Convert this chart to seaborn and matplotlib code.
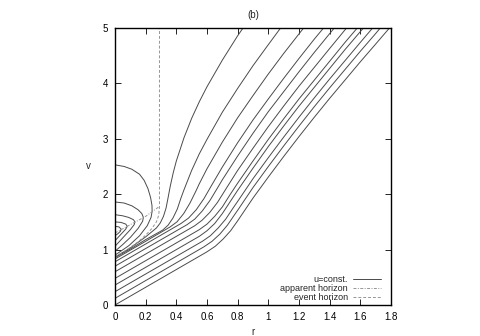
import pandas as pd
import matplotlib
matplotlib.use("Agg")
import matplotlib.pyplot as plt
from matplotlib.lines import Line2D
import seaborn as sns

# ===========================
# Data (r, v)
# ===========================

# outgoing rays u=const. that escape (lowest first)
ray1 = [(0, 0), (0.6, 0.96), (0.654, 1.06), (0.705, 1.19), (0.754, 1.34), (0.8, 1.52), (0.9, 1.93),
        (1.0, 2.31), (1.1, 2.68), (1.2, 3.04), (1.3, 3.39), (1.4, 3.73), (1.5, 4.06), (1.6, 4.39),
        (1.7, 4.71), (1.79, 5.0)]
ray2 = [(0, 0.12), (0.58, 1.05), (0.633, 1.15), (0.684, 1.28), (0.733, 1.44), (0.78, 1.63),
        (0.8, 1.71), (0.9, 2.12), (1.0, 2.50), (1.1, 2.87), (1.2, 3.23), (1.3, 3.58), (1.4, 3.92),
        (1.5, 4.25), (1.6, 4.58), (1.7, 4.90), (1.73, 5.0)]
ray3 = [(0, 0.24), (0.57, 1.15), (0.622, 1.25), (0.673, 1.39), (0.722, 1.55), (0.77, 1.75),
        (0.8, 1.87), (0.9, 2.28), (1.0, 2.66), (1.1, 3.03), (1.2, 3.39), (1.3, 3.74), (1.4, 4.08),
        (1.5, 4.41), (1.6, 4.74), (1.68, 5.0)]
ray4 = [(0, 0.36), (0.55, 1.24), (0.6, 1.34), (0.65, 1.47), (0.7, 1.65), (0.75, 1.86), (0.8, 2.07),
        (0.9, 2.47), (1.0, 2.86), (1.1, 3.23), (1.2, 3.59), (1.3, 3.93), (1.4, 4.27), (1.5, 4.61),
        (1.62, 5.0)]
ray5 = [(0, 0.48), (0.55, 1.36), (0.6, 1.46), (0.65, 1.60), (0.7, 1.77), (0.75, 1.99), (0.8, 2.20),
        (0.9, 2.60), (1.0, 2.99), (1.1, 3.36), (1.2, 3.72), (1.3, 4.06), (1.4, 4.40), (1.5, 4.74),
        (1.58, 5.0)]
ray6 = [(0, 0.6), (0.52, 1.43), (0.568, 1.53), (0.618, 1.67), (0.668, 1.85), (0.72, 2.08),
        (0.8, 2.43), (0.9, 2.83), (1.0, 3.22), (1.1, 3.59), (1.2, 3.95), (1.3, 4.29), (1.4, 4.63),
        (1.51, 5.0)]
ray7 = [(0, 0.7), (0.47, 1.45), (0.52, 1.55), (0.57, 1.70), (0.62, 1.89), (0.67, 2.12), (0.7, 2.26),
        (0.8, 2.69), (0.9, 3.10), (1.0, 3.49), (1.1, 3.85), (1.2, 4.21), (1.3, 4.56), (1.43, 5.0)]
ray8 = [(0, 0.78), (0.43, 1.47), (0.48, 1.57), (0.53, 1.72), (0.58, 1.92), (0.63, 2.16), (0.7, 2.49),
        (0.8, 2.93), (0.9, 3.34), (1.0, 3.72), (1.1, 4.09), (1.2, 4.45), (1.3, 4.80), (1.36, 5.0)]
ray9 = [(0, 0.83), (0.2, 1.15), (0.36, 1.41), (0.404, 1.50), (0.448, 1.65), (0.489, 1.84),
        (0.53, 2.07), (0.55, 2.19), (0.6, 2.46), (0.7, 2.94), (0.8, 3.38), (0.9, 3.78), (1.0, 4.17),
        (1.1, 4.54), (1.23, 5.0)]
ray10 = [(0, 0.855), (0.1, 1.01), (0.2, 1.18), (0.31, 1.35), (0.346, 1.44), (0.378, 1.57),
         (0.406, 1.73), (0.43, 1.93), (0.45, 2.08), (0.5, 2.43), (0.55, 2.73), (0.6, 2.99),
         (0.7, 3.48), (0.8, 3.91), (0.9, 4.32), (1.0, 4.70), (1.08, 5.0)]
ray11 = [(0, 0.865), (0.1, 1.03), (0.2, 1.23), (0.27, 1.39), (0.295, 1.48), (0.316, 1.60),
         (0.333, 1.75), (0.345, 1.92), (0.36, 2.14), (0.38, 2.39), (0.4, 2.6), (0.45, 3.02),
         (0.5, 3.37), (0.55, 3.67), (0.6, 3.94), (0.7, 4.42), (0.8, 4.86), (0.835, 5.0)]

# trapped rays (go back to r=0)
loop1 = [(0, 0.9), (0.09, 1.07), (0.16, 1.25), (0.21, 1.43), (0.235, 1.58), (0.242, 1.69),
         (0.241, 1.8), (0.232, 1.94), (0.215, 2.1), (0.19, 2.25), (0.16, 2.36), (0.11, 2.45),
         (0.06, 2.5), (0, 2.53)]
loop2 = [(0, 0.97), (0.05, 1.09), (0.1, 1.22), (0.15, 1.38), (0.18, 1.51), (0.185, 1.58),
         (0.175, 1.65), (0.15, 1.72), (0.11, 1.79), (0.06, 1.84), (0, 1.86)]
loop3 = [(0, 1.06), (0.05, 1.21), (0.1, 1.36), (0.125, 1.45), (0.13, 1.5), (0.12, 1.54),
         (0.09, 1.58), (0.05, 1.61), (0, 1.63)]
loop4 = [(0, 1.16), (0.04, 1.28), (0.07, 1.37), (0.08, 1.42), (0.07, 1.46), (0.04, 1.49), (0, 1.5)]
loop5 = [(0, 1.25), (0.02, 1.29), (0.035, 1.33), (0.04, 1.37), (0.025, 1.41), (0, 1.42)]

apparent_horizon = [(0, 1.3), (0.1, 1.45), (0.2, 1.6), (0.29, 1.78)]
event_horizon = [(0, 0.87), (0.05, 0.95), (0.1, 1.04), (0.15, 1.14), (0.2, 1.26), (0.24, 1.38),
                 (0.27, 1.5), (0.285, 1.62), (0.29, 1.78), (0.29, 5.0)]

xtick_vals = [0, 0.2, 0.4, 0.6, 0.8, 1.0, 1.2, 1.4, 1.6, 1.8]
xtick_labels = ["0", "0.2", "0.4", "0.6", "0.8", "1", "1.2", "1.4", "1.6", "1.8"]
ytick_vals = [0, 1, 2, 3, 4, 5]

# ===========================
# Build data frames
# ===========================

u_curves = [ray1, ray2, ray3, ray4, ray5, ray6, ray7, ray8, ray9, ray10, ray11,
            loop1, loop2, loop3, loop4, loop5]
rows = []
for i, pts in enumerate(u_curves):
    for r, v in pts:
        rows.append({"curve": i, "r": r, "v": v})
df_u = pd.DataFrame(rows)

df_ah = pd.DataFrame(apparent_horizon, columns=["r", "v"])
df_eh = pd.DataFrame(event_horizon, columns=["r", "v"])

# ===========================
# Plot
# ===========================

sns.set_theme(style="ticks")
plt.rcParams["font.family"] = ["Liberation Sans", "DejaVu Sans"]
plt.rcParams["font.size"] = 7

fig = plt.figure(figsize=(4.8, 3.36), dpi=100)
ax = fig.add_axes([0.2396, 0.0923, 0.575, 0.8244])

line_col = "#4a4a4a"
hor_col = "#959595"
ah_style = (0, (3, 1.5, 1, 1.5))
eh_style = (0, (3, 2))

sns.lineplot(data=df_u, x="r", y="v", units="curve", estimator=None, sort=False,
             color=line_col, linewidth=0.7, ax=ax, legend=False)
sns.lineplot(data=df_ah, x="r", y="v", estimator=None, sort=False,
             color=hor_col, linewidth=0.7, linestyle=ah_style, ax=ax, legend=False)
sns.lineplot(data=df_eh, x="r", y="v", estimator=None, sort=False,
             color=hor_col, linewidth=0.7, linestyle=eh_style, ax=ax, legend=False)

ax.set_xlim(0, 1.8)
ax.set_ylim(0, 5)
ax.set_xticks(xtick_vals)
ax.set_xticklabels(xtick_labels)
ax.set_yticks(ytick_vals)
ax.tick_params(direction="in", top=True, right=True, length=4, width=0.6,
               labelsize=7, colors="black")
ax.tick_params(axis="x", pad=5)
ax.tick_params(axis="y", pad=5)
for sp in ax.spines.values():
    sp.set_visible(True)
    sp.set_linewidth(1.0)
    sp.set_color("black")

ax.set_xlabel("r", fontsize=7, labelpad=4)
ax.set_ylabel("v", fontsize=7, rotation=0, labelpad=10, va="center")
ax.set_title("(b)", fontsize=7, pad=7)

handles = [
    Line2D([], [], color=line_col, linewidth=0.7),
    Line2D([], [], color=hor_col, linewidth=0.7, linestyle=ah_style),
    Line2D([], [], color=hor_col, linewidth=0.7, linestyle=eh_style),
]
ax.legend(handles, ["u=const.", "apparent horizon", "event horizon"],
          loc="lower right", bbox_to_anchor=(0.962, 0.01), frameon=False,
          markerfirst=False, fontsize=6.5, handlelength=3.0, handletextpad=0.6,
          labelspacing=0.02, borderpad=0, borderaxespad=0)

fig.savefig("out.png", dpi=100)
